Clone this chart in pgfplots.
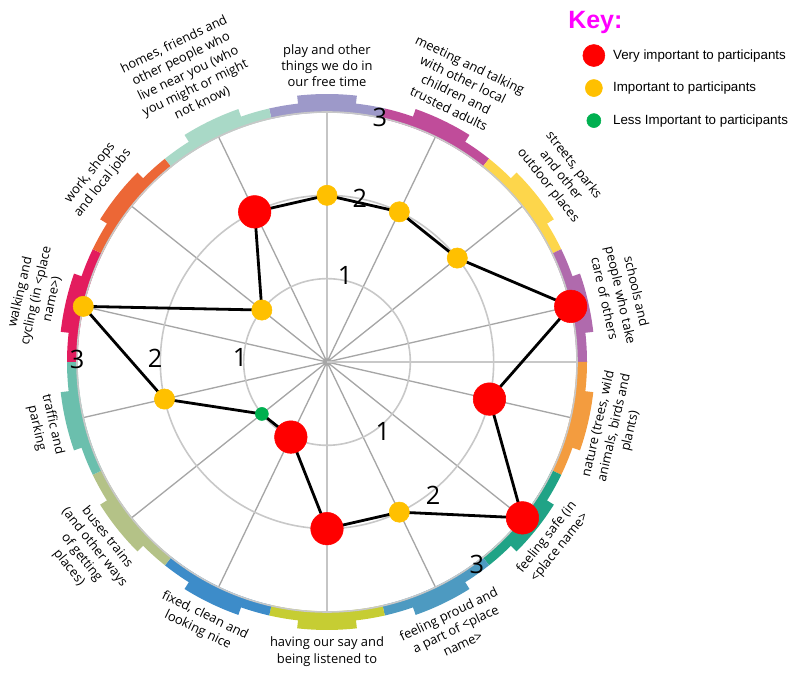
\documentclass[border=0pt]{standalone}
\usepackage{pgfplots}
\pgfplotsset{compat=1.18}
\usepgfplotslibrary{polar}
\usepackage{fontspec}
\setmainfont{Open Sans}
\newfontfamily\arial{Liberation Sans}

\definecolor{cPlay}{HTML}{9D99C9}
\definecolor{cMeet}{HTML}{C04C9A}
\definecolor{cStreet}{HTML}{FDD64B}
\definecolor{cSchool}{HTML}{B06AAD}
\definecolor{cNature}{HTML}{F39C3F}
\definecolor{cSafe}{HTML}{20A386}
\definecolor{cProud}{HTML}{4D9AC1}
\definecolor{cSay}{HTML}{C6CD33}
\definecolor{cFixed}{HTML}{3D8CC9}
\definecolor{cBus}{HTML}{B4C287}
\definecolor{cTraffic}{HTML}{6BBFAD}
\definecolor{cWalk}{HTML}{E31C5E}
\definecolor{cWork}{HTML}{EC6736}
\definecolor{cHome}{HTML}{A9D9C7}
\definecolor{cRed}{HTML}{FF0000}
\definecolor{cAmber}{HTML}{FFC000}
\definecolor{cGreen}{HTML}{00B050}
\definecolor{spoke}{HTML}{A6A6A6}
\definecolor{circ}{HTML}{C8C8C8}
\definecolor{keypink}{HTML}{FF00FF}

% one coloured piece of the outer ring: centre angle, colour
\newcommand\seg[2]{%
  \fill[#2] ({#1-12.857}:187pt) arc[start angle={#1-12.857}, end angle={#1+12.857}, radius=187pt]
    -- ({#1+12.857}:195pt) arc[start angle={#1+12.857}, end angle={#1-12.857}, radius=195pt] -- cycle;
  \fill[#2] ({#1-6.4}:190pt) arc[start angle={#1-6.4}, end angle={#1+6.4}, radius=190pt]
    -- ({#1+6.4}:201pt) arc[start angle={#1+6.4}, end angle={#1-6.4}, radius=201pt] -- cycle;
}

\begin{document}
\begin{tikzpicture}
\useasboundingbox (0,0) rectangle (600pt,504.75pt);

\begin{scope}[shift={(245.25pt,233.25pt)}]
\seg{90}{cPlay}
\seg{64.286}{cMeet}
\seg{38.571}{cStreet}
\seg{12.857}{cSchool}
\seg{-12.857}{cNature}
\seg{-38.571}{cSafe}
\seg{-64.286}{cProud}
\seg{-90}{cSay}
\seg{-115.714}{cFixed}
\seg{-141.429}{cBus}
\seg{-167.143}{cTraffic}
\seg{167.143}{cWalk}
\seg{141.429}{cWork}
\seg{115.714}{cHome}
\end{scope}

\begin{polaraxis}[
  at={(245.25pt,233.25pt)}, anchor=origin,
  scale only axis, width=375pt, height=375pt,
  ymin=0, ymax=3,
  xtick={90,64.286,38.571,12.857,347.143,321.429,295.714,270,244.286,218.571,192.857,167.143,141.429,115.714},
  ytick={1,2},
  xticklabels={}, yticklabels={},
  major tick length=0pt,
  grid=major,
  major x grid style={draw=spoke, line width=1pt},
  major y grid style={draw=circ, line width=1.2pt},
  axis line style={draw=circ, line width=1.2pt},
  clip=false,
]
% closed line through the scores
\addplot[black, line width=2.1pt] coordinates {
(90,2) (64.286,2) (38.571,2) (12.857,3) (347.143,2) (321.429,3) (295.714,2)
(270,2) (244.286,1) (218.571,1) (192.857,2) (167.143,3) (141.429,1) (115.714,2) (90,2)};
% very important
\addplot[only marks, mark=*, mark size=12.2pt, mark options={draw=cRed, fill=cRed, line width=0.4pt}] coordinates {
(12.857,3) (347.143,2) (321.429,3) (270,2) (244.286,1) (115.714,2)};
% important
\addplot[only marks, mark=*, mark size=7.6pt, mark options={draw=cAmber, fill=cAmber, line width=0.4pt}] coordinates {
(90,2) (64.286,2) (38.571,2) (295.714,2) (192.857,2) (167.143,3) (141.429,1)};
% less important
\addplot[only marks, mark=*, mark size=4.9pt, mark options={draw=cGreen, fill=cGreen, line width=0.4pt}] coordinates {
(218.571,1)};
\end{polaraxis}

% key, as the legend of an empty hidden axis
\begin{axis}[
  hide axis, scale only axis, width=1pt, height=1pt,
  xmin=0, xmax=1, ymin=0, ymax=1,
  at={(436.75pt,475.5pt)}, anchor=north west,
  legend cell align=left,
  legend style={at={(0,1)}, anchor=north west, draw=none, fill=none,
    inner sep=0pt, row sep=0pt, font=\arial\fontsize{10}{12}\selectfont,
    /tikz/every odd column/.append style={column sep=4pt}},
]
\addlegendimage{legend image code/.code={\path[draw=none, fill=none] (-8pt,-12.2pt) rectangle (8pt,12.2pt); \fill[cRed] (0pt,0pt) circle[radius=8.25pt];}}
\addlegendentry{Very important to participants}
\addlegendimage{legend image code/.code={\path[draw=none, fill=none] (-8pt,-12.2pt) rectangle (8pt,12.2pt); \fill[cAmber] (0pt,0pt) circle[radius=6.4pt];}}
\addlegendentry{Important to participants}
\addlegendimage{legend image code/.code={\path[draw=none, fill=none] (-8pt,-12.2pt) rectangle (8pt,12.2pt); \fill[cGreen] (0pt,0pt) circle[radius=5.25pt];}}
\addlegendentry{Less Important to participants}
\end{axis}

\node[anchor=base west, inner sep=0pt, text=keypink, font=\arial\bfseries\fontsize{18.75}{20}\selectfont] at (426pt,483pt) {Key:};

\begin{scope}[shift={(245.25pt,233.25pt)},
  lab/.style={font=\fontsize{9.7}{12.2}\selectfont, align=center, inner sep=0pt},
  num/.style={font=\fontsize{19}{19}\selectfont, inner sep=0pt}]
\node[lab, anchor=south, rotate=0] at (90:206pt) {play and other\\things we do in\\our free time};
\node[lab, anchor=south, rotate=-25.714] at (64.286:207pt) {meeting and talking\\with other local\\children and\\trusted adults};
\node[lab, anchor=south, rotate=-51.429] at (38.571:207pt) {streets, parks\\and other\\outdoor places};
\node[lab, anchor=south, rotate=-77.143] at (12.857:210pt) {schools and\\people who take\\care of others};
\node[lab, anchor=north, rotate=77.143] at (-12.857:204pt) {nature (trees, wild\\animals, birds and\\plants)};
\node[lab, anchor=north, rotate=51.429] at (-38.571:206pt) {feeling safe (in\\<place name>};
\node[lab, anchor=north, rotate=25.714] at (-64.286:206pt) {feeling proud and\\a part of <place\\name>};
\node[lab, anchor=north, rotate=0] at (-90:206pt) {having our say and\\being listened to};
\node[lab, anchor=north, rotate=-25.714] at (-115.714:206pt) {fixed, clean and\\looking nice};
\node[lab, anchor=north, rotate=-51.429] at (-141.429:206pt) {buses trains\\(and other ways\\of getting\\places)};
\node[lab, anchor=north, rotate=-77.143] at (-167.143:206pt) {traffic and\\parking};
\node[lab, anchor=south, rotate=77.143] at (167.143:207pt) {walking and\\cycling (in <place\\name>)};
\node[lab, anchor=south, rotate=51.429] at (141.429:210pt) {work, shops\\and local jobs};
\node[lab, anchor=south, rotate=25.714] at (115.714:211pt) {homes, friends and\\other people who\\live near you (who\\you might or might\\not know)};

\node[num] at (78.3:66.6pt) {1};
\node[num] at (78.6:125pt) {2};
\node[num] at (77.8:188pt) {3};
\node[num] at (176.7:65.3pt) {1};
\node[num] at (178.7:129pt) {2};
\node[num] at (179.5:187.5pt) {3};
\node[num] at (-51.3:67pt) {1};
\node[num] at (-51.4:127.5pt) {2};
\node[num] at (-53.5:189pt) {3};
\end{scope}
\end{tikzpicture}
\end{document}
